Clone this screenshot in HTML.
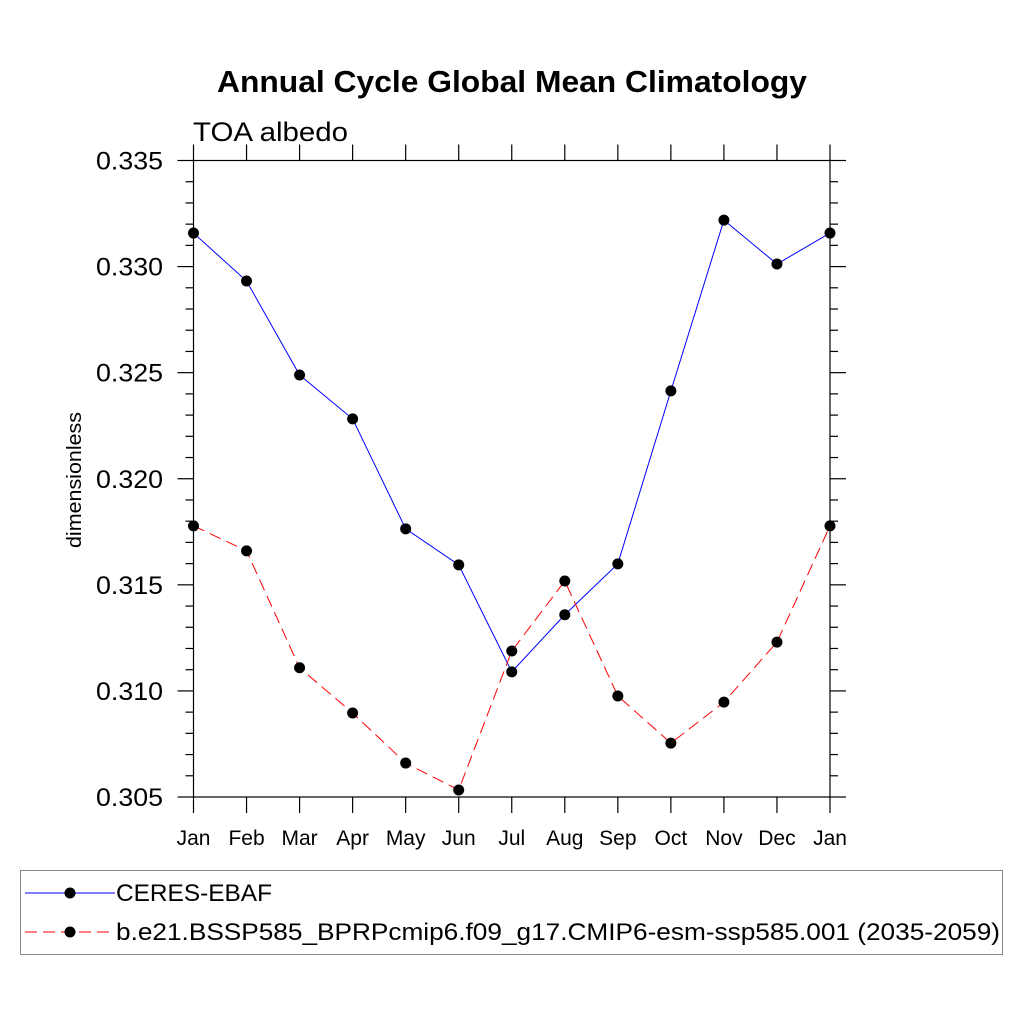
<!DOCTYPE html>
<html><head><meta charset="utf-8"><style>
body{margin:0;background:#fff}
svg{display:block;font-family:"Liberation Sans",sans-serif}
</style></head><body>
<svg id="chart" width="1024" height="1024" viewBox="0 0 1024 1024">
<rect width="1024" height="1024" fill="#fff"/>
<text x="217" y="92" font-size="31" font-weight="bold" textLength="590" lengthAdjust="spacingAndGlyphs">Annual Cycle Global Mean Climatology</text>
<text x="193" y="141" font-size="27" textLength="155" lengthAdjust="spacingAndGlyphs">TOA albedo</text>
<text transform="translate(81,480) rotate(-90)" text-anchor="middle" font-size="20" textLength="136" lengthAdjust="spacingAndGlyphs">dimensionless</text>
<g id="axes"></g>
<g id="series"></g>
<g>
<rect x="20.5" y="870.5" width="982" height="84" fill="none" stroke="#888" stroke-width="1"/>
<g>
<line x1="25" y1="893" x2="115" y2="893" stroke="#00f" stroke-width="1"/>
<circle cx="70" cy="893" r="5.5" fill="#000"/>
<text x="116" y="901" font-size="24" textLength="156" lengthAdjust="spacingAndGlyphs">CERES-EBAF</text>
</g>
<g>
<line x1="25" y1="932" x2="115" y2="932" stroke="#f00" stroke-width="1" stroke-dasharray="12,6"/>
<circle cx="70" cy="932" r="5.5" fill="#000"/>
<text x="116" y="940" font-size="24" textLength="884" lengthAdjust="spacingAndGlyphs">b.e21.BSSP585_BPRPcmip6.f09_g17.CMIP6-esm-ssp585.001 (2035-2059)</text>
</g>
</g>
</svg>
<script>
const months = ["Jan","Feb","Mar","Apr","May","Jun","Jul","Aug","Sep","Oct","Nov","Dec","Jan"];
const ceres = [0.33158,0.32932,0.32489,0.32282,0.31764,0.31594,0.3109,0.31359,0.31599,0.32414,0.33219,0.33012,0.33158];
const model = [0.31778,0.3166,0.31109,0.30896,0.3066,0.30533,0.31188,0.31518,0.30976,0.30754,0.30947,0.3123,0.31778];
const yTicks = [0.305,0.310,0.315,0.320,0.325,0.330,0.335];
const yTickLabels = ["0.305","0.310","0.315","0.320","0.325","0.330","0.335"];
const NS="http://www.w3.org/2000/svg";
const X0=193.5,X1=830,Y0=797,Y1=160.5,YMIN=0.305,YMAX=0.335;
function xs(i){return X0+(X1-X0)*i/(months.length-1);}
function ys(v){return Y0-(v-YMIN)/(YMAX-YMIN)*(Y0-Y1);}
function mk(tag,attrs,parent){const e=document.createElementNS(NS,tag);for(const k in attrs)e.setAttribute(k,attrs[k]);parent.appendChild(e);return e;}
const ax=document.getElementById('axes');
const st={stroke:"#000","stroke-width":1.2};
const frame=mk('rect',{x:X0,y:Y1,width:X1-X0,height:Y0-Y1,fill:"none",stroke:"#000","stroke-width":1.2},ax);


months.forEach((m,i)=>{
  const x=xs(i);
  mk('line',Object.assign({x1:x,y1:Y0,x2:x,y2:Y0+16},st),ax);
  mk('line',Object.assign({x1:x,y1:Y1,x2:x,y2:Y1-16},st),ax);
  const t=mk('text',{x:x,y:845,"text-anchor":"middle","font-size":21},ax);
  t.textContent=m;
  
  
});
yTicks.forEach((v,i)=>{
  const y=ys(v);
  mk('line',Object.assign({x1:X0-16,y1:y,x2:X0,y2:y},st),ax);
  mk('line',Object.assign({x1:X1,y1:y,x2:X1+16,y2:y},st),ax);
  const t=mk('text',{x:163,y:y+9,"text-anchor":"end","font-size":25,textLength:67,lengthAdjust:"spacingAndGlyphs"},ax);
  t.textContent=yTickLabels[i];
  
  
  if(i<yTicks.length-1){for(let k=1;k<5;k++){const yy=ys(v+0.001*k);
    mk('line',Object.assign({x1:X0-8,y1:yy,x2:X0,y2:yy},st),ax);
    mk('line',Object.assign({x1:X1,y1:yy,x2:X1+8,y2:yy},st),ax);}}
});
const sg=document.getElementById('series');
function draw(vals,color,dash,name){
  const g=mk('g',{},sg);
  
  
  const pts=vals.map((v,i)=>xs(i)+","+ys(v)).join(" ");
  const a={points:pts,fill:"none",stroke:color,"stroke-width":1};
  if(dash)a["stroke-dasharray"]=dash;
  mk('polyline',a,g);
  vals.forEach((v,i)=>{const c=mk('circle',{cx:xs(i),cy:ys(v),r:5.5,fill:"#000"},g);
    
    });
}
draw(ceres,"#00f",null,"series-ceres-ebaf");
draw(model,"#f00","12,6","series-model");
</script>
</body></html>
